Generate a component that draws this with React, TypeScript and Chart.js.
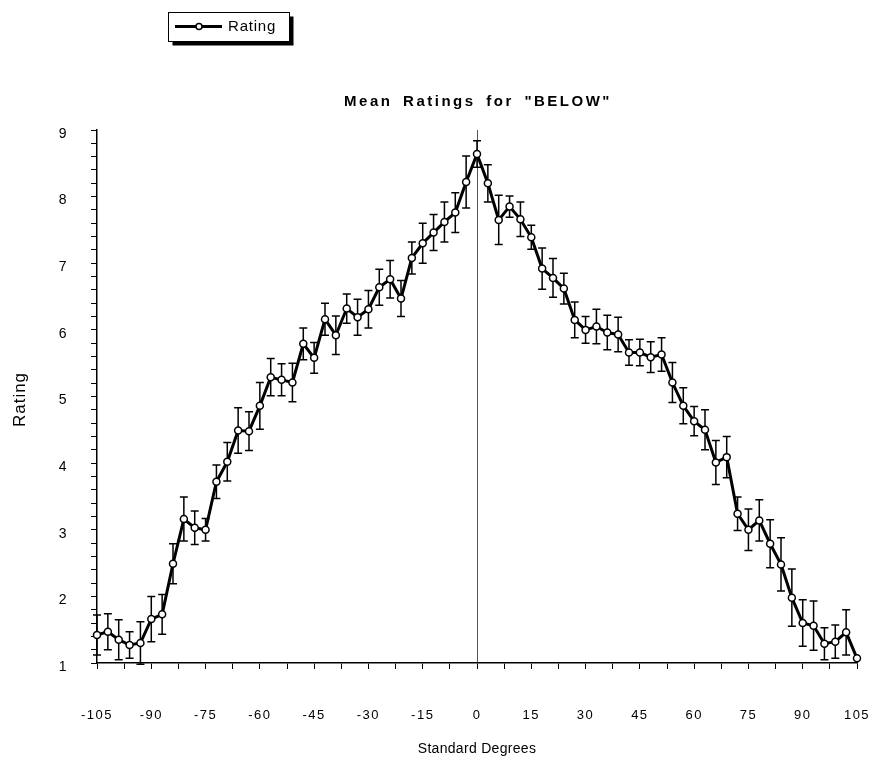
import React, { useEffect, useRef } from 'react';
import { Chart, registerables } from 'chart.js';

Chart.register(...registerables);

const DEGREES = [
  -105, -102, -99, -96, -93, -90, -87, -84, -81, -78, -75, -72, -69, -66, -63, -60,
  -57, -54, -51, -48, -45, -42, -39, -36, -33, -30, -27, -24, -21, -18, -15, -12,
  -9, -6, -3, 0, 3, 6, 9, 12, 15, 18, 21, 24, 27, 30, 33, 36, 39, 42, 45, 48, 51,
  54, 57, 60, 63, 66, 69, 72, 75, 78, 81, 84, 87, 90, 93, 96, 99, 102, 105,
];

const MEAN_RATING = [
  1.42, 1.47, 1.35, 1.27, 1.30, 1.66, 1.73, 2.49, 3.16, 3.03, 3.00, 3.72, 4.02, 4.49, 4.48, 4.86,
  5.29, 5.25, 5.21, 5.79, 5.58, 6.16, 5.92, 6.32, 6.19, 6.31, 6.64, 6.76, 6.47, 7.08, 7.30, 7.46,
  7.62, 7.76, 8.22, 8.64, 8.20, 7.65, 7.85, 7.66, 7.39, 6.92, 6.78, 6.62, 6.15, 6.00, 6.05, 5.96, 5.93, 5.66, 5.66, 5.59, 5.63,
  5.21, 4.86, 4.63, 4.50, 4.01, 4.09, 3.24, 3.00, 3.14, 2.79, 2.48, 1.98, 1.60, 1.56, 1.29, 1.32, 1.46, 1.07,
];

const ERROR = [
  0.30, 0.27, 0.30, 0.20, 0.32, 0.34, 0.30, 0.30, 0.33, 0.25, 0.17, 0.25, 0.29, 0.34, 0.29, 0.35,
  0.28, 0.24, 0.29, 0.24, 0.23, 0.24, 0.29, 0.22, 0.27, 0.28, 0.27, 0.28, 0.27, 0.24, 0.30, 0.27,
  0.30, 0.30, 0.39, 0.20, 0.28, 0.37, 0.16, 0.26, 0.18, 0.31, 0.29, 0.23, 0.27, 0.20, 0.26, 0.26, 0.26, 0.19, 0.20, 0.23, 0.25,
  0.30, 0.27, 0.22, 0.30, 0.33, 0.31, 0.25, 0.31, 0.31, 0.36, 0.40, 0.43, 0.35, 0.37, 0.24, 0.25, 0.34, 0.0,
];

const X_LABELED_TICKS = [-105, -90, -75, -60, -45, -30, -15, 0, 15, 30, 45, 60, 75, 90, 105];
const Y_LABELED_TICKS = [1, 2, 3, 4, 5, 6, 7, 8, 9];

const TITLE = 'Mean Ratings for "BELOW"';
const X_TITLE = 'Standard Degrees';
const Y_TITLE = 'Rating';
const SERIES_NAME = 'Rating';

const FONT = "'Liberation Sans', Arial, Helvetica, sans-serif";

const errorBarsPlugin = {
  id: 'errorBars',
  beforeDatasetsDraw(chart: any) {
    const { ctx } = chart;
    const x = chart.scales.x;
    const y = chart.scales.y;
    ctx.save();
    ctx.strokeStyle = '#000';
    ctx.lineWidth = 1.5;
    DEGREES.forEach((d, i) => {
      const e = ERROR[i];
      if (!e) return;
      const px = x.getPixelForValue(d);
      const top = y.getPixelForValue(MEAN_RATING[i] + e);
      const bot = y.getPixelForValue(MEAN_RATING[i] - e);
      ctx.beginPath();
      ctx.moveTo(px, top);
      ctx.lineTo(px, bot);
      ctx.moveTo(px - 4, top);
      ctx.lineTo(px + 4, top);
      ctx.moveTo(px - 4, bot);
      ctx.lineTo(px + 4, bot);
      ctx.stroke();
    });
    ctx.restore();
  },
};

const spacingPlugin = {
  id: 'spacing',
  beforeDraw(chart: any) {
    chart.ctx.letterSpacing = '1.5px';
  },
};

const textPlugin = {
  id: 'texts',
  afterDraw(chart: any) {
    const { ctx, chartArea } = chart;
    const cx = (chartArea.left + chartArea.right) / 2;
    const cy = (chartArea.top + chartArea.bottom) / 2;
    ctx.save();
    ctx.fillStyle = '#000';
    ctx.textBaseline = 'middle';
    ctx.textAlign = 'center';

    // Title
    ctx.letterSpacing = '2.5px';
    (ctx as any).wordSpacing = '4px';
    ctx.font = `bold 15px ${FONT}`;
    ctx.fillText(TITLE, cx + 1, 102);

    (ctx as any).wordSpacing = '0px';
    ctx.letterSpacing = '0.3px';
    // X title
    ctx.font = `14px ${FONT}`;
    ctx.fillText(X_TITLE, cx, 749);

    // Y title
    ctx.save();
    ctx.translate(20, cy + 3);
    ctx.rotate(-Math.PI / 2);
    ctx.letterSpacing = '1px';
    ctx.font = `17px ${FONT}`;
    ctx.fillText(Y_TITLE, 0, 0);
    ctx.restore();

    // Legend box with drop shadow
    const bx = 168.5, by = 12.5, bw = 121, bh = 29;
    ctx.fillStyle = '#000';
    ctx.fillRect(bx + 4, by + 4, bw, bh);
    ctx.fillStyle = '#fff';
    ctx.fillRect(bx, by, bw, bh);
    ctx.strokeStyle = '#000';
    ctx.lineWidth = 1;
    ctx.strokeRect(bx, by, bw, bh);
    ctx.beginPath();
    ctx.lineWidth = 3;
    ctx.moveTo(175, 26.5);
    ctx.lineTo(222, 26.5);
    ctx.stroke();
    ctx.beginPath();
    ctx.arc(199, 26.5, 3, 0, Math.PI * 2);
    ctx.fillStyle = '#fff';
    ctx.fill();
    ctx.lineWidth = 1.5;
    ctx.stroke();
    ctx.fillStyle = '#000';
    ctx.textAlign = 'left';
    ctx.letterSpacing = '0.8px';
    ctx.font = `15px ${FONT}`;
    ctx.fillText(SERIES_NAME, 228, 27);
    ctx.restore();
  },
};

export default function App() {
  const canvasRef = useRef<HTMLCanvasElement | null>(null);

  useEffect(() => {
    if (!canvasRef.current) return;
    const chart = new Chart(canvasRef.current, {
      type: 'line',
      data: {
        datasets: [
          {
            label: SERIES_NAME,
            data: DEGREES.map((d, i) => ({ x: d, y: MEAN_RATING[i] })),
            borderColor: '#000',
            borderWidth: 3,
            pointRadius: 3.5,
            pointBackgroundColor: '#fff',
            pointBorderColor: '#000',
            pointBorderWidth: 1.5,
            tension: 0,
            clip: false as any,
          },
        ],
      },
      options: {
        animation: false,
        responsive: true,
        maintainAspectRatio: false,
        layout: { padding: { top: 130, right: 18, left: 0, bottom: 0 } },
        plugins: {
          legend: { display: false },
          title: { display: false },
          tooltip: { enabled: false },
        },
        scales: {
          x: {
            type: 'linear',
            min: -105,
            max: 105,
            afterFit: (scale: any) => {
              scale.height = 104;
              scale.paddingLeft = 14;
              scale.paddingRight = 14;
            },
            border: { display: true, color: '#000', width: 1.5 },
            grid: {
              drawOnChartArea: true,
              drawTicks: true,
              tickLength: 6,
              color: (c: any) => (c.tick && c.tick.value === 0 ? '#555' : 'rgba(0,0,0,0)'),
              tickColor: '#000',
              lineWidth: 1,
              tickWidth: 1,
            },
            ticks: {
              stepSize: 7.5,
              autoSkip: false,
              maxRotation: 0,
              padding: 39,
              color: '#000',
              font: { family: FONT, size: 13 },
              callback: (v: any) => {
                const n = Number(v);
                return X_LABELED_TICKS.includes(n) ? String(n === 0 ? 0 : n) : '';
              },
            },
          },
          y: {
            type: 'linear',
            min: 1,
            max: 9,
            afterFit: (scale: any) => {
              scale.width = 97;
            },
            border: { display: true, color: '#000', width: 1.5 },
            grid: {
              drawOnChartArea: false,
              drawTicks: true,
              tickLength: 6,
              tickColor: '#000',
              tickWidth: 1,
            },
            ticks: {
              stepSize: 0.2,
              autoSkip: false,
              padding: 23,
              labelOffset: 4,
              color: '#000',
              font: { family: FONT, size: 14 },
              callback: (v: any) => {
                const n = Number(v);
                const r = Math.round(n);
                return Math.abs(n - r) < 1e-6 && Y_LABELED_TICKS.includes(r) ? String(r) : '';
              },
            },
          },
        },
      },
      plugins: [spacingPlugin, errorBarsPlugin, textPlugin],
    });
    return () => chart.destroy();
  }, []);

  return (
    <div style={{ position: 'absolute', left: 0, top: 0, width: 875, height: 767, background: '#fff' }}>
      <canvas ref={canvasRef} />
    </div>
  );
}
